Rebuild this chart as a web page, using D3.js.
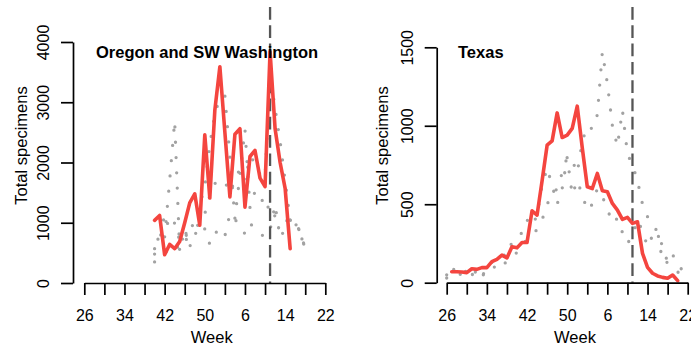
<!DOCTYPE html>
<html>
<head>
<meta charset="utf-8">
<script src="https://cdn.jsdelivr.net/npm/d3@7/dist/d3.min.js"></script>
<style>
  body { margin: 0; background: #fff; }
  svg { display: block; font-family: "Liberation Sans", Arial, Helvetica, sans-serif; }
</style>
</head>
<body>
<svg id="chart" width="691" height="350"></svg>
<script>
// flu season weeks, July to June
const weeks = [26, 27, 28, 29, 30, 31, 32, 33, 34, 35, 36, 37, 38, 39, 40, 41, 42, 43, 44, 45, 46, 47,
  48, 49, 50, 51, 52, 1, 2, 3, 4, 5, 6, 7, 8, 9, 10, 11, 12, 13, 14, 15, 16, 17, 18, 19, 20, 21, 22];
const tickWeeks = [26, 30, 34, 38, 42, 46, 50, 2, 6, 10, 14, 18, 22];
const labelWeeks = [26, 34, 42, 50, 6, 14, 22];
const currentWeek = 11;

// Oregon and SW Washington: this season (from week 40) and three earlier seasons
const orFirstWeek = 40;
const orThis = [1040, 1120, 470, 640, 570, 690, 1000, 1330, 1480, 960, 2460, 1410, 2870, 3590,
  2500, 1430, 2470, 2560, 1260, 2100, 2200, 1740, 1600, 3840, 2560, 2000, 1570, 570];
const orPrevA = [480, 850, 760, 1700, 2690, 520, 900, 600, 840, 760, 900, 640, 820, 900, 780, 1150,
  1070, 900, 820, 1000, 880, 820, 760, 880, 1300, 750, 900, 1050, 1060, 830, 580];
const orPrevB = [570, 700, 1140, 880, 1000, 700, 640, 900, 1000, 1300, 1600, 2300, 2800, 3080, 3110,
  2100, 1070, 1800, 2550, 1250, 1520, 1500, 1200, 1300, 1100, 1050, 1000, 1100, 1000, 800, 600];
const orPrevC = [350, 420, 480, 600, 560, 620, 780, 820, 900, 1000, 1150, 1450, 1650, 1720, 1680,
  1500, 1700, 1900, 1700, 2100, 2000, 1800, 1750, 3480, 2900, 2350, 1700, 1040, 1050, 830, 570];
const orTicks = [0, 1000, 2000, 3000, 4000];

// Texas: this season (from week 27) and two earlier seasons (from week 26)
const txFirstWeek = 27;
const txThis = [70, 70, 68, 64, 89, 85, 96, 96, 134, 149, 176, 158, 229, 222, 256, 256, 458, 431,
  650, 876, 904, 1082, 925, 940, 983, 1125, 860, 611, 600, 696, 586, 580, 505, 463, 403, 416, 378,
  388, 187, 98, 60, 43, 34, 28, 49, 13];
const txPrevFirstWeek = 26;
const txPrevA = [50, 30, 40, 60, 30, 50, 70, 40, 90, 80, 120, 100, 140, 180, 190, 250, 270, 300, 340,
  400, 500, 560, 600, 700, 800, 780, 700, 900, 1000, 980, 1070, 1470, 1270, 1000, 870, 1100, 820,
  750, 650, 500, 420, 380, 320, 230, 130, 180, 110, 80, 130];
const txPrevB = [30, 100, 60, 50, 80, 40, 80, 30, 100, 130, 160, 180, 170, 260, 280, 320, 400, 360,
  430, 620, 730, 620, 500, 600, 800, 560, 650, 560, 460, 500, 600, 550, 470, 380, 410, 320, 250, 300,
  400, 330, 230, 300, 330, 130, 130, 110, 70, 25, 40];
const txTicks = [0, 500, 1000, 1500];

const panels = [
  { title: "Oregon and SW Washington", axisX: 73, xLeft: 84.3, yBottom: 283, yTopTick: 42,
    yTicks: orTicks, thisFirst: orFirstWeek, thisSeason: orThis,
    prevFirst: orFirstWeek, prevSeasons: [orPrevA, orPrevB, orPrevC],
    titleX: 96, ylabX: 26.5, xlabX: 211.7 },
  { title: "Texas", axisX: 436.7, xLeft: 446.7, yBottom: 282.7, yTopTick: 47.3,
    yTicks: txTicks, thisFirst: txFirstWeek, thisSeason: txThis,
    prevFirst: txPrevFirstWeek, prevSeasons: [txPrevA, txPrevB],
    titleX: 458, ylabX: 388, xlabX: 575 }
];

const svg = d3.select("#chart");
const plotTop = 7;
const fontSize = 16;

panels.forEach(p => {
  const x = d3.scaleLinear().domain([0, weeks.length - 1]).range([p.xLeft, p.xLeft + 241]);
  const y = d3.scaleLinear().domain([0, d3.max(p.yTicks)]).range([p.yBottom, p.yTopTick]);
  const g = svg.append("g");

  const toPoints = (vals, firstWeek) => {
    const start = weeks.indexOf(firstWeek);
    return vals.map((v, j) => [start + j, v]);
  };
  const line = d3.line().x(d => x(d[0])).y(d => y(d[1]));

  // earlier seasons, dotted
  p.prevSeasons.forEach(s => {
    g.append("path")
      .datum(toPoints(s, p.prevFirst))
      .attr("d", line)
      .attr("fill", "none")
      .attr("stroke", "#a2a2a2")
      .attr("stroke-width", 3.3)
      .attr("stroke-linecap", "round")
      .attr("stroke-dasharray", "0 15.3");
  });

  // current week marker
  const xc = x(weeks.indexOf(currentWeek));
  g.append("line")
    .attr("x1", xc).attr("x2", xc)
    .attr("y1", plotTop).attr("y2", p.yBottom)
    .attr("stroke", "#555")
    .attr("stroke-width", 2.3)
    .attr("stroke-dasharray", "12.7 5.6");

  // this season
  g.append("path")
    .datum(toPoints(p.thisSeason, p.thisFirst))
    .attr("d", line)
    .attr("fill", "none")
    .attr("stroke", "#f4453f")
    .attr("stroke-width", 3.6)
    .attr("stroke-linejoin", "round")
    .attr("stroke-linecap", "round");

  // y axis, labels parallel to the axis
  const yAxis = g.append("g")
    .attr("transform", `translate(${p.axisX},0)`)
    .call(d3.axisLeft(y).tickValues(p.yTicks).tickSize(12).tickSizeOuter(0).tickFormat(d3.format("d")));
  yAxis.selectAll("text")
    .attr("x", null).attr("dy", null)
    .attr("text-anchor", "middle")
    .attr("transform", "translate(-24,0) rotate(-90)");

  // x axis in weeks
  const xAxis = g.append("g")
    .attr("transform", `translate(0,${p.yBottom})`)
    .call(d3.axisBottom(x)
      .tickValues(tickWeeks.map(w => weeks.indexOf(w)))
      .tickSize(12).tickSizeOuter(0).tickPadding(15)
      .tickFormat(i => labelWeeks.includes(weeks[i]) ? weeks[i] : ""));

  [yAxis, xAxis].forEach(a => {
    a.selectAll("path, line").attr("stroke", "#000").attr("stroke-width", 1.7);
    a.selectAll("text").attr("fill", "#000").style("font-size", fontSize + "px")
      .style("font-family", "'Liberation Sans', Arial, sans-serif");
  });

  g.append("text")
    .attr("x", p.titleX).attr("y", 58.3)
    .attr("font-weight", "bold")
    .style("font-size", "16.5px")
    .text(p.title);

  g.append("text")
    .attr("transform", `translate(${p.ylabX},145.5) rotate(-90)`)
    .attr("text-anchor", "middle")
    .style("font-size", "16.5px")
    .text("Total specimens");

  g.append("text")
    .attr("x", p.xlabX).attr("y", 343.3)
    .attr("text-anchor", "middle")
    .style("font-size", "16.5px")
    .text("Week");
});
</script>
</body>
</html>
